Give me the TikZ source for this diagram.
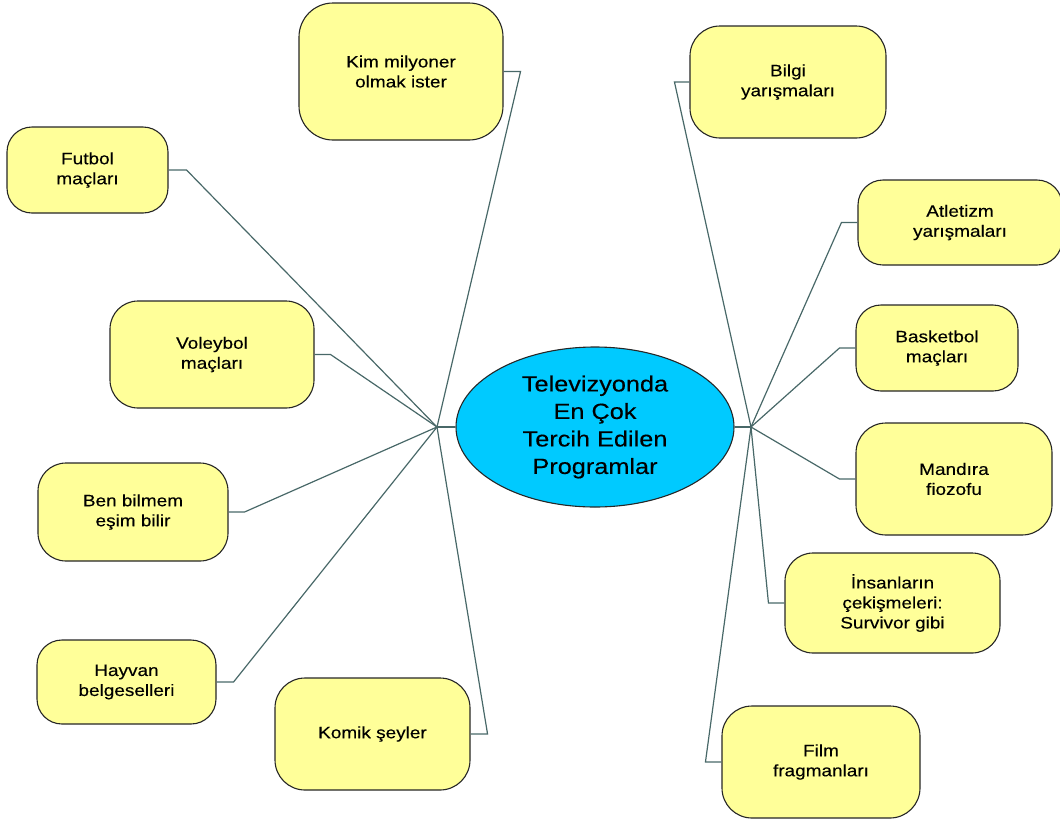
\documentclass[tikz,border=0pt]{standalone}
\usepackage{fontspec}
\setmainfont{Liberation Sans}[FakeStretch=1.15,FakeBold=0.25]
\usetikzlibrary{shapes.geometric}
\definecolor{boxfill}{RGB}{255,255,153}
\definecolor{hubfill}{RGB}{0,202,255}
\definecolor{linkcol}{RGB}{72,104,104}
\begin{document}
\begin{tikzpicture}[x=1pt,y=-1pt,
  topic/.style={draw=black!85,line width=1.1pt,fill=boxfill,rounded corners=28pt,
    align=center,inner sep=0pt,font=\fontsize{16.5}{20}\selectfont},
  centre/.style={ellipse,draw=black!85,line width=1.1pt,fill=hubfill,
    minimum width=278pt,minimum height=160pt,inner sep=0pt,align=center,
    font=\fontsize{22}{27.5}\selectfont},
  link/.style={draw=linkcol,line width=1.2pt},
  stem/.style={draw=linkcol,line width=2.6pt}]
\useasboundingbox (0,0) rectangle (1060,820);

% central topic
\node[centre] (c) at (595,427) {Televizyonda\\En Çok\\Tercih Edilen\\Programlar};
\coordinate (hl) at (437,427);
\coordinate (hr) at (751,427);

% left branches
\node[topic,minimum width=204pt,minimum height=137pt,rounded corners=34pt] (kim) at (401,71.5) {Kim milyoner\\olmak ister};
\node[topic,minimum width=161pt,minimum height=86pt,rounded corners=25pt] (fut) at (87.5,170) {Futbol\\maçları};
\node[topic,minimum width=204pt,minimum height=107pt] (vol) at (212,354.5) {Voleybol\\maçları};
\node[topic,minimum width=190pt,minimum height=98pt] (ben) at (133,512) {Ben bilmem\\eşim bilir};
\node[topic,minimum width=179pt,minimum height=84pt,rounded corners=25pt] (hay) at (126.5,682) {Hayvan\\belgeselleri};
\node[topic,minimum width=195pt,minimum height=112pt,rounded corners=30pt] (kom) at (372.5,734) {Komik şeyler};

% right branches
\node[topic,minimum width=196pt,minimum height=112pt,rounded corners=30pt] (bil) at (788,82) {Bilgi\\yarışmaları};
\node[topic,minimum width=204pt,minimum height=85pt,rounded corners=25pt] (atl) at (960,222.5) {Atletizm\\yarışmaları};
\node[topic,minimum width=162pt,minimum height=86pt,rounded corners=25pt] (bas) at (937,348) {Basketbol\\maçları};
\node[topic,minimum width=196pt,minimum height=112pt,rounded corners=30pt] (man) at (954,479) {Mandıra\\fiozofu};
\node[topic,minimum width=215pt,minimum height=100pt] (ins) at (892.5,603) {İnsanların\\çekişmeleri:\\Survivor gibi};
\node[topic,minimum width=198pt,minimum height=112pt,rounded corners=30pt] (fil) at (821,762) {Film\\fragmanları};

% connectors
\draw[stem] (c.west) -- (hl);
\draw[stem] (c.east) -- (hr);
\draw[link] (kim.east) -- ++(17,0) -- (hl);
\draw[link] (fut.east) -- ++(18,0) -- (hl);
\draw[link] (vol.east) -- ++(16,0) -- (hl);
\draw[link] (ben.east) -- ++(16,0) -- (hl);
\draw[link] (hay.east) -- ++(17,0) -- (hl);
\draw[link] (kom.east) -- ++(17,0) -- (hl);
\draw[link] (bil.west) -- ++(-15,0) -- (hr);
\draw[link] (atl.west) -- ++(-16,0) -- (hr);
\draw[link] (bas.west) -- ++(-16,0) -- (hr);
\draw[link] (man.west) -- ++(-16,0) -- (hr);
\draw[link] (ins.west) -- ++(-16,0) -- (hr);
\draw[link] (fil.west) -- ++(-16,0) -- (hr);
\end{tikzpicture}
\end{document}
